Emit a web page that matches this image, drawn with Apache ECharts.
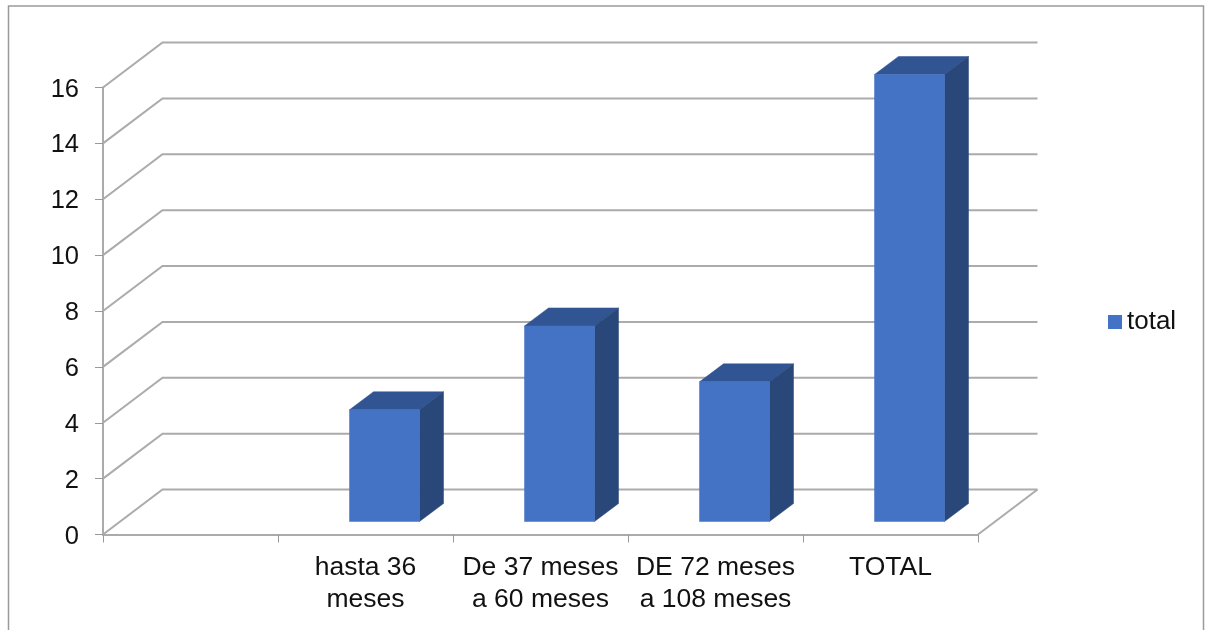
<!DOCTYPE html>
<html>
<head>
<meta charset="utf-8">
<style>
	html, body { margin: 0; background: #fff; }
	#chart { width: 1208px; height: 630px; }
</style>
<script src="https://cdn.jsdelivr.net/npm/echarts@6/dist/echarts.min.js"></script>
</head>
<body>
<div id="chart"></div>
<script>
	const categories = ['', 'hasta 36\nmeses', 'De 37 meses\na 60 meses', 'DE 72 meses\na 108 meses', 'TOTAL']
	const totals = [null, 4, 7, 5, 16]
	const gridValues = [0, 2, 4, 6, 8, 10, 12, 14, 16]

	// fake 3d: how far the back wall and the bars are pushed, in pixels
	const wallDepth = [59.5, -45]
	const barShift = [19, -13]
	const barDepth = [24, -18]
	const barRatio = 0.4

	const fontFamily = '"Liberation Sans", Arial, sans-serif'
	const gridColor = '#ababab'

	const chart = echarts.init(document.getElementById('chart'))

	function renderWall(params, api) {
		const value = api.value(0)
		const band = api.size([1, 0])[0]
		const last = categories.length - 1
		const left = api.coord([0, value])[0] - band / 2
		const right = api.coord([last, value])[0] + band / 2
		const y = api.coord([0, value])[1]
		const style = { stroke: gridColor, lineWidth: 2, fill: null }
		const children = [{
			type: 'polyline',
			shape: {
				points: [
					[left, y],
					[left + wallDepth[0], y + wallDepth[1]],
					[right + wallDepth[0], y + wallDepth[1]]
				]
			},
			style: style
		}]
		// floor edge on the right side
		if (value === 0) {
			children.push({
				type: 'line',
				shape: { x1: right, y1: y, x2: right + wallDepth[0], y2: y + wallDepth[1] },
				style: style
			})
		}
		return { type: 'group', children: children }
	}

	function face(points, color) {
		return {
			type: 'polygon',
			shape: { points: points },
			style: { fill: color, stroke: color, lineWidth: 0.5 }
		}
	}

	function renderBar(params, api) {
		const value = api.value(1)
		if (!(value > 0)) return null
		const index = api.value(0)
		const top = api.coord([index, value])
		const base = api.coord([index, 0])
		const width = api.size([1, 0])[0] * barRatio
		const x1 = top[0] - width / 2 + barShift[0]
		const x2 = x1 + width
		const y1 = top[1] + barShift[1]
		const y2 = base[1] + barShift[1]
		const dx = barDepth[0]
		const dy = barDepth[1]
		return {
			type: 'group',
			children: [
				face([[x1, y1], [x1 + dx, y1 + dy], [x2 + dx, y1 + dy], [x2, y1]], '#315592'),
				face([[x2, y1], [x2 + dx, y1 + dy], [x2 + dx, y2 + dy], [x2, y2]], '#2a4779'),
				face([[x1, y1], [x2, y1], [x2, y2], [x1, y2]], '#4472c4')
			]
		}
	}

	const option = {
		animation: false,
		backgroundColor: '#fff',
		textStyle: { fontFamily: fontFamily },
		graphic: [{
			type: 'rect',
			shape: { x: 8.5, y: 6, width: 1195, height: 660 },
			style: { fill: null, stroke: '#9a9a9a', lineWidth: 1.5 },
			silent: true
		}],
		grid: {
			left: 103,
			right: 230,
			top: 87.5,
			bottom: 95.5
		},
		legend: {
			left: 1103,
			top: 304,
			icon: 'rect',
			itemWidth: 14,
			itemHeight: 14,
			data: ['total'],
			textStyle: { fontSize: 26, color: '#111', fontFamily: fontFamily }
		},
		xAxis: {
			type: 'category',
			data: categories,
			axisLine: { lineStyle: { color: gridColor, width: 2 } },
			axisTick: { show: true, alignWithLabel: false, length: 8, lineStyle: { color: '#999', width: 1 } },
			axisLabel: {
				interval: 0,
				margin: 17,
				fontSize: 26.5,
				lineHeight: 32,
				color: '#111',
				fontFamily: fontFamily
			}
		},
		yAxis: {
			type: 'value',
			min: 0,
			max: 16,
			interval: 2,
			splitLine: { show: false },
			axisLine: { show: true, lineStyle: { color: gridColor, width: 2 } },
			axisTick: { show: true, length: 8, lineStyle: { color: '#999', width: 1 } },
			axisLabel: {
				margin: 24,
				formatter: '{n|{value}}',
				rich: {
					n: {
						padding: [4, 0, 0, 0],
						fontSize: 25.5,
						color: '#111',
						fontFamily: fontFamily
					}
				}
			}
		},
		series: [{
			name: 'wall',
			type: 'custom',
			renderItem: renderWall,
			coordinateSystem: 'cartesian2d',
			data: gridValues.map(v => [v]),
			encode: { y: 0 },
			silent: true,
			z: 1
		}, {
			name: 'total',
			type: 'custom',
			renderItem: renderBar,
			coordinateSystem: 'cartesian2d',
			data: totals.map((v, i) => [i, v]),
			encode: { x: 0, y: 1 },
			itemStyle: { color: '#4472c4' },
			clip: false,
			z: 3
		}]
	}

	chart.setOption(option)
</script>
</body>
</html>
